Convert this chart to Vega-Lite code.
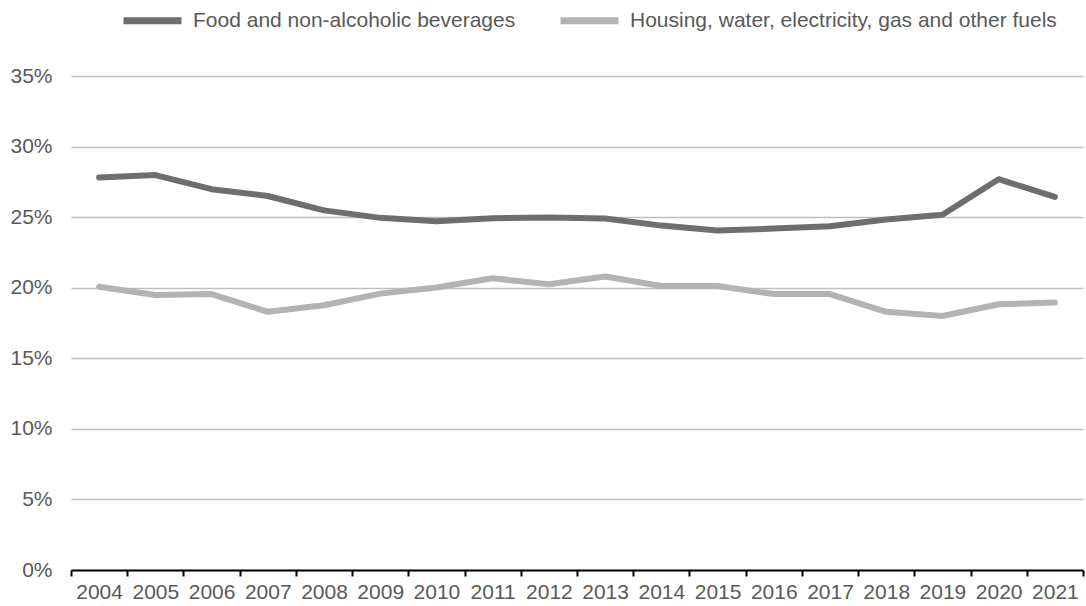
{
  "$schema": "https://vega.github.io/schema/vega-lite/v6.json",
  "autosize": "none",
  "width": 1012,
  "height": 494,
  "padding": {"left": 71, "top": 76, "right": 3, "bottom": 36},
  "background": "white",
  "config": {
    "view": {"stroke": null},
    "font": "Liberation Sans"
  },
  "data": {
    "values": [
      {"year": "2004", "series": "Food and non-alcoholic beverages", "value": 0.2781},
      {"year": "2005", "series": "Food and non-alcoholic beverages", "value": 0.2798},
      {"year": "2006", "series": "Food and non-alcoholic beverages", "value": 0.2698},
      {"year": "2007", "series": "Food and non-alcoholic beverages", "value": 0.2650},
      {"year": "2008", "series": "Food and non-alcoholic beverages", "value": 0.2548},
      {"year": "2009", "series": "Food and non-alcoholic beverages", "value": 0.2495},
      {"year": "2010", "series": "Food and non-alcoholic beverages", "value": 0.2471},
      {"year": "2011", "series": "Food and non-alcoholic beverages", "value": 0.2493},
      {"year": "2012", "series": "Food and non-alcoholic beverages", "value": 0.2498},
      {"year": "2013", "series": "Food and non-alcoholic beverages", "value": 0.2490},
      {"year": "2014", "series": "Food and non-alcoholic beverages", "value": 0.2440},
      {"year": "2015", "series": "Food and non-alcoholic beverages", "value": 0.2405},
      {"year": "2016", "series": "Food and non-alcoholic beverages", "value": 0.2419},
      {"year": "2017", "series": "Food and non-alcoholic beverages", "value": 0.2436},
      {"year": "2018", "series": "Food and non-alcoholic beverages", "value": 0.2483},
      {"year": "2019", "series": "Food and non-alcoholic beverages", "value": 0.2517},
      {"year": "2020", "series": "Food and non-alcoholic beverages", "value": 0.2769},
      {"year": "2021", "series": "Food and non-alcoholic beverages", "value": 0.2643},
      {"year": "2004", "series": "Housing, water, electricity, gas and other fuels", "value": 0.2007},
      {"year": "2005", "series": "Housing, water, electricity, gas and other fuels", "value": 0.1948},
      {"year": "2006", "series": "Housing, water, electricity, gas and other fuels", "value": 0.1955},
      {"year": "2007", "series": "Housing, water, electricity, gas and other fuels", "value": 0.1829},
      {"year": "2008", "series": "Housing, water, electricity, gas and other fuels", "value": 0.1876},
      {"year": "2009", "series": "Housing, water, electricity, gas and other fuels", "value": 0.1958},
      {"year": "2010", "series": "Housing, water, electricity, gas and other fuels", "value": 0.2002},
      {"year": "2011", "series": "Housing, water, electricity, gas and other fuels", "value": 0.2067},
      {"year": "2012", "series": "Housing, water, electricity, gas and other fuels", "value": 0.2024},
      {"year": "2013", "series": "Housing, water, electricity, gas and other fuels", "value": 0.2079},
      {"year": "2014", "series": "Housing, water, electricity, gas and other fuels", "value": 0.2012},
      {"year": "2015", "series": "Housing, water, electricity, gas and other fuels", "value": 0.2012},
      {"year": "2016", "series": "Housing, water, electricity, gas and other fuels", "value": 0.1955},
      {"year": "2017", "series": "Housing, water, electricity, gas and other fuels", "value": 0.1955},
      {"year": "2018", "series": "Housing, water, electricity, gas and other fuels", "value": 0.1829},
      {"year": "2019", "series": "Housing, water, electricity, gas and other fuels", "value": 0.1800},
      {"year": "2020", "series": "Housing, water, electricity, gas and other fuels", "value": 0.1883},
      {"year": "2021", "series": "Housing, water, electricity, gas and other fuels", "value": 0.1895}
    ]
  },
  "mark": {"type": "line", "strokeWidth": 6, "strokeCap": "round", "strokeJoin": "round"},
  "encoding": {
    "x": {
      "field": "year",
      "type": "ordinal",
      "scale": {"type": "band", "paddingInner": 0, "paddingOuter": 0},
      "axis": {
        "title": null,
        "labelAngle": 0,
        "labelFontSize": 21,
        "labelColor": "#595959",
        "labelPadding": 5,
        "tickBand": "extent",
        "tickSize": 6,
        "tickColor": "#000000",
        "tickWidth": 2,
        "domainColor": "#000000",
        "domainWidth": 2,
        "grid": false
      }
    },
    "y": {
      "field": "value",
      "type": "quantitative",
      "scale": {"domain": [0, 0.35], "nice": false},
      "axis": {
        "title": null,
        "format": ".0%",
        "values": [0, 0.05, 0.1, 0.15, 0.2, 0.25, 0.3, 0.35],
        "labelFontSize": 21,
        "labelColor": "#595959",
        "labelPadding": 19,
        "ticks": false,
        "domain": false,
        "grid": true,
        "gridColor": "#c0c0c0",
        "gridWidth": 1.3
      }
    },
    "color": {
      "field": "series",
      "type": "nominal",
      "scale": {
        "domain": ["Food and non-alcoholic beverages", "Housing, water, electricity, gas and other fuels"],
        "range": ["#6d6e71", "#b2b3b6"]
      },
      "legend": {
        "title": null,
        "orient": "none",
        "direction": "horizontal",
        "legendX": 49,
        "legendY": -88,
        "symbolType": "stroke",
        "symbolSize": 3364,
        "symbolStrokeWidth": 7,
        "labelFontSize": 21,
        "labelColor": "#595959",
        "labelOffset": 8,
        "labelLimit": 600,
        "columnPadding": 30
      }
    }
  }
}
